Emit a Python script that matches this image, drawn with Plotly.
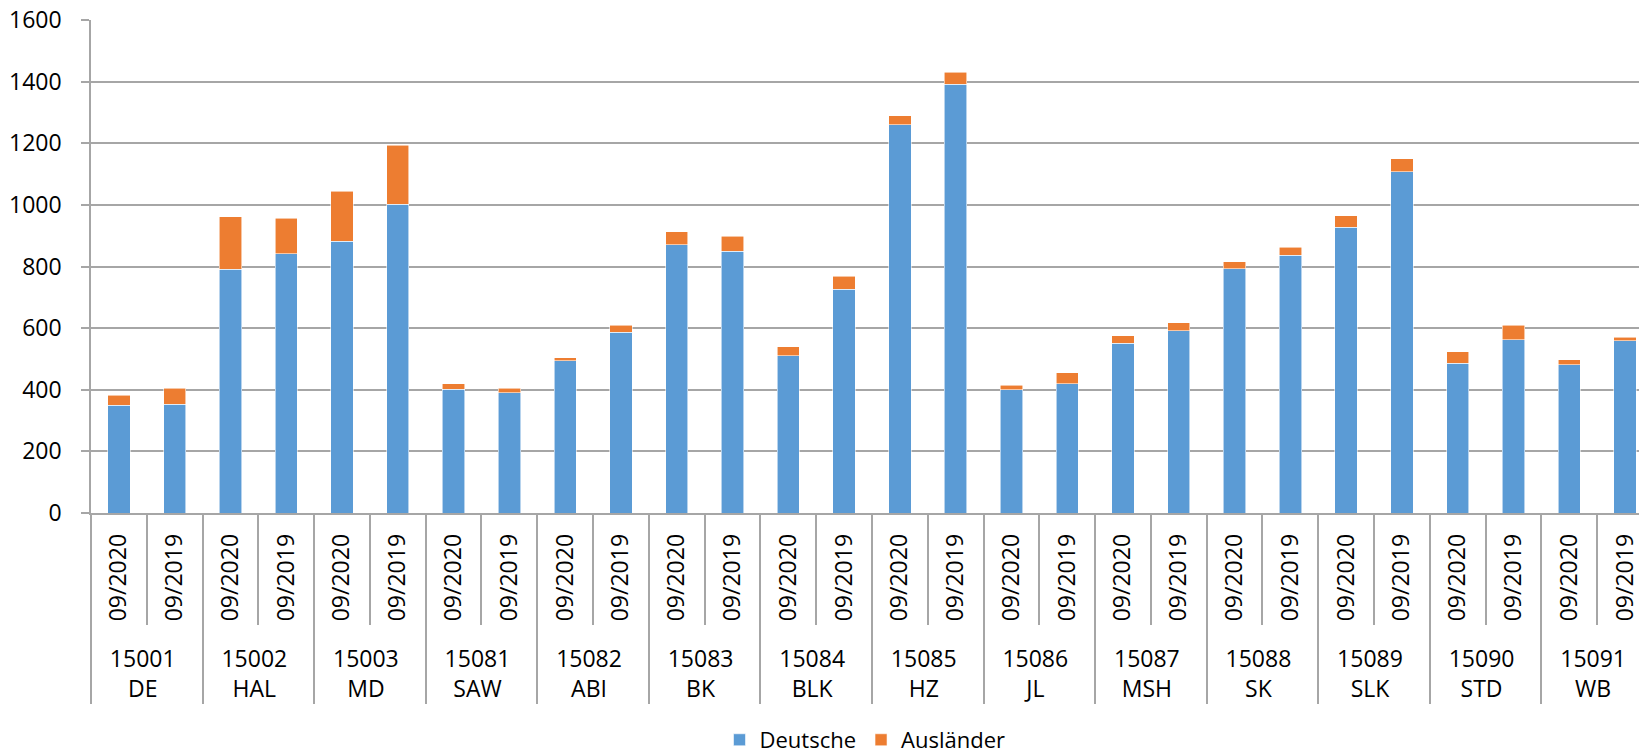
import plotly.graph_objects as go

kreise = ["15001<br>DE", "15002<br>HAL", "15003<br>MD", "15081<br>SAW", "15082<br>ABI",
          "15083<br>BK", "15084<br>BLK", "15085<br>HZ", "15086<br>JL", "15087<br>MSH",
          "15088<br>SK", "15089<br>SLK", "15090<br>STD", "15091<br>WB"]
monate = ["09/2020", "09/2019"]

deutsche = [349, 353, 791, 841, 882, 1002, 402, 391, 494, 587, 870, 850, 510, 726,
            1260, 1391, 400, 420, 551, 592, 793, 836, 927, 1108, 486, 562, 481, 559]
auslaender = [33, 52, 171, 116, 162, 192, 17, 14, 10, 23, 42, 49, 29, 43,
              29, 40, 15, 35, 25, 25, 22, 26, 37, 41, 37, 47, 17, 11]

# leading no-break spaces only pad the label box so the second label row sits lower
PAD = "\u00a0\u00a0"
x_group = [k for k in kreise for _ in monate]
x_month = [PAD + m for _ in kreise for m in monate]

BLUE = "#5B9BD5"
ORANGE = "#ED7D31"
GRID = "#A6A6A6"
FONT = "Open Sans"

fig = go.Figure()
fig.add_trace(go.Bar(name="Deutsche", x=[x_group, x_month], y=deutsche,
                     marker=dict(color=BLUE, line=dict(color="rgba(255,255,255,0.7)", width=0.8))))
fig.add_trace(go.Bar(name="Ausländer", x=[x_group, x_month], y=auslaender,
                     marker=dict(color=ORANGE, line=dict(color="rgba(255,255,255,0.7)", width=0.8))))

fig.update_layout(
    width=1639, height=755,
    barmode="stack", bargap=0.6,
    margin=dict(l=91, r=0, t=20, b=242, autoexpand=False),
    paper_bgcolor="white", plot_bgcolor="white",
    font=dict(family=FONT, size=22, color="#000000"),
    showlegend=True,
    legend=dict(orientation="h", x=0.5, xanchor="center", y=-0.503, yanchor="bottom",
                maxheight=120,
                font=dict(family=FONT, size=22, color="#000000"), traceorder="normal",
                bgcolor="rgba(0,0,0,0)"),
)
fig.update_xaxes(
    type="multicategory",
    range=[-0.5, 27.25],
    showline=True, linecolor=GRID, linewidth=1.5,
    ticks="outside", tickson="boundaries", ticklen=110, tickcolor=GRID, tickwidth=1.5,
    ticklabelstandoff=10,
    tickangle=-90,
    tickfont=dict(family=FONT, size=23, color="#000000"),
    showdividers=True, dividercolor=GRID, dividerwidth=1.5,
    showgrid=False, automargin=False,
)
fig.update_yaxes(
    range=[0, 1600], dtick=200, tick0=0,
    showline=True, linecolor=GRID, linewidth=1.5,
    showgrid=True, gridcolor=GRID, gridwidth=1.5,
    ticks="outside", ticklen=8, tickcolor=GRID, tickwidth=1.5,
    ticklabelstandoff=15,
    tickfont=dict(family=FONT, size=23, color="#000000"),
    zeroline=False, automargin=False,
)

fig.write_html(
    "out.html",
    config={"displayModeBar": False},
    post_script="document.body.style.margin='0';document.body.style.overflow='hidden';",
)
